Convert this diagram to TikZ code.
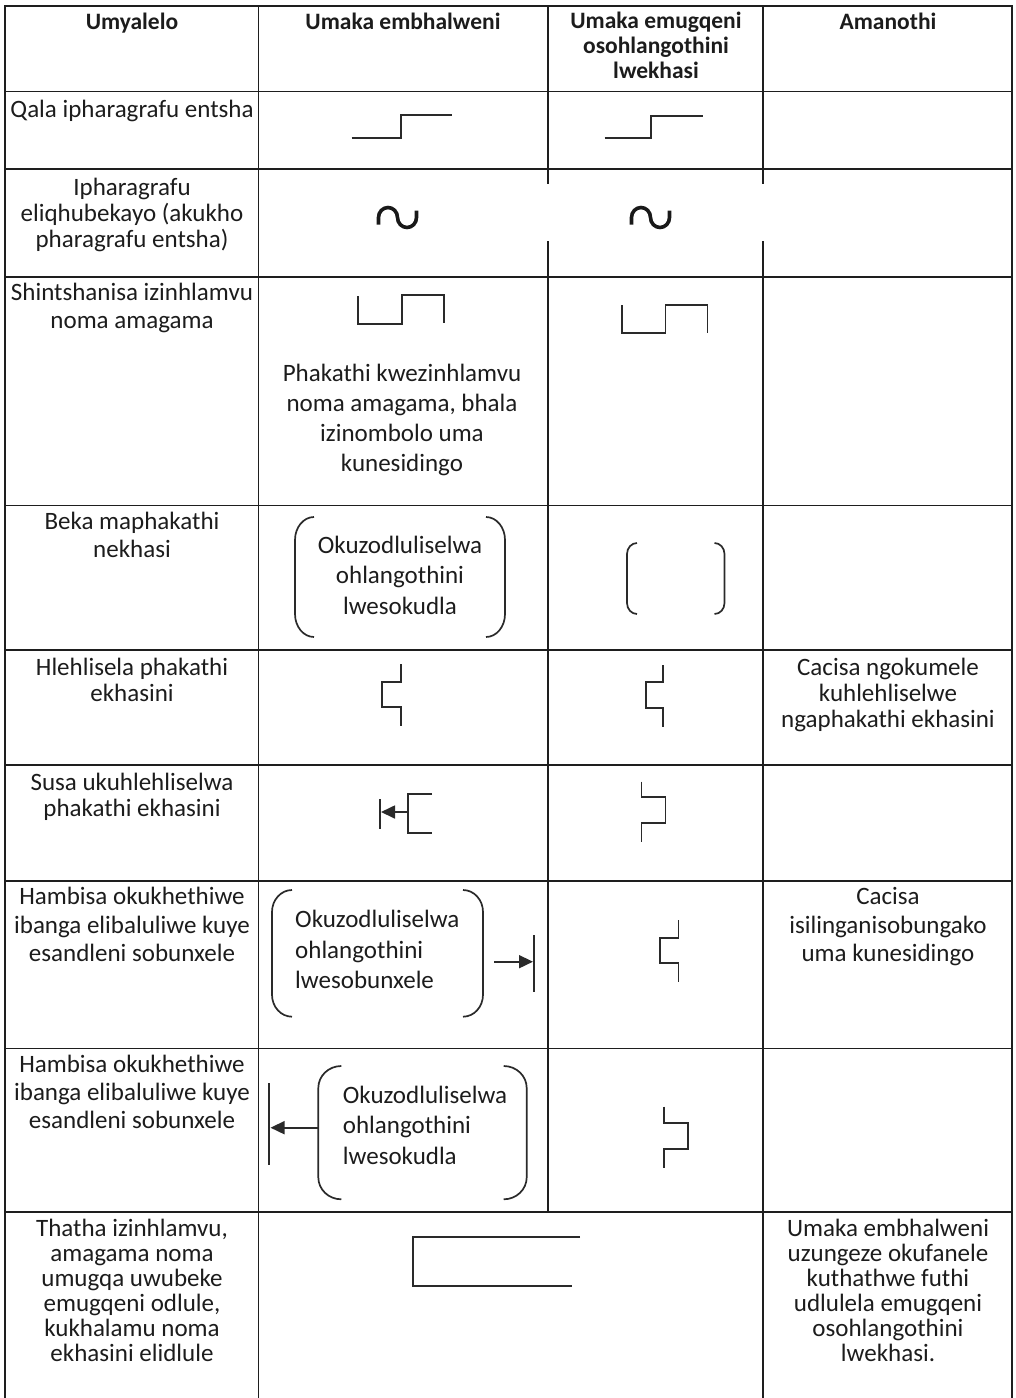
\documentclass[tikz,border=0pt]{standalone}
\usepackage{fontspec}
\setmainfont{Carlito}
\usetikzlibrary{arrows.meta}
\definecolor{linec}{HTML}{1E1E1E}
\definecolor{textc}{HTML}{1C1C1C}
\definecolor{symc}{HTML}{2A2A2A}
\tikzset{
  grid/.style={line width=1.8pt, draw=linec, line cap=rect},
  sym/.style={line width=1.7pt, draw=symc},
  wavest/.style={line width=3.6pt, draw=black!90},
  txt/.style={font=\fontsize{25}{29}\selectfont, text=textc, inner sep=0pt, anchor=base},
  txtl/.style={txt, anchor=base west},
  txtb/.style={txt, font=\fontsize{23.5}{28}\selectfont\bfseries},
  arr/.style={sym, -{Triangle[length=14pt,width=13pt]}},
}
% #1 style, #2 name, #3 x, #4 first baseline, #5 spacing, #6 lines
\newcommand\ctext[6]{\foreach \cline [count=\kk from 0] in {#6}{\node[#1] (#2-\kk) at (#3,{#4+\kk*#5}) {\cline};}}
% brackets: #1 xl #2 xr #3 ytop #4 ybot #5 rx #6 ry
\newcommand\brk[6]{%
  \draw[sym] ({#1+#5},#3) arc[start angle=270,end angle=180,x radius=#5,y radius=#6] -- (#1,{#4-#6}) arc[start angle=180,end angle=90,x radius=#5,y radius=#6];
  \draw[sym] ({#2-#5},#3) arc[start angle=270,end angle=360,x radius=#5,y radius=#6] -- (#2,{#4-#6}) arc[start angle=0,end angle=90,x radius=#5,y radius=#6];}
\newcommand\wave[2]{%
  \draw[wavest] ({#1-19},{#2+7}) -- ({#1-19},#2) arc[start angle=180,end angle=360,x radius=9.5,y radius=10] arc[start angle=180,end angle=0,x radius=9.5,y radius=10] -- ({#1+19},{#2-7});}
\begin{document}
\begin{tikzpicture}[x=1pt,y=-1pt]
\useasboundingbox (0,0) rectangle (1016,1398);
% ---- grid ----
\foreach \yy in {6,91.5,169,276.7,505.5,650,765,880.7,1048.5,1211.7}
  \draw[grid] (5,\yy) -- (1012,\yy);
\draw[grid] (5,6) -- (5,1398);
\draw[grid] (258.5,6) -- (258.5,1398);
\draw[grid] (1012,6) -- (1012,1398);
\draw[grid] (548,6) -- (548,183) (548,241.7) -- (548,1211.7);
\draw[grid] (763,6) -- (763,183) (763,241.7) -- (763,1398);
% ---- header ----
\node[txtb] (h1) at (132,29.5) {Umyalelo};
\node[txtb] (h2) at (403,29.5) {Umaka embhalweni};
\ctext{txtb}{h3}{656}{28.5}{25}{Umaka emugqeni,osohlangothini,lwekhasi}
\node[txtb] (h4) at (888,29.5) {Amanothi};
% ---- row 1 ----
\node[txt] (r1) at (132,117) {Qala ipharagrafu entsha};
\draw[sym] (351.7,137.7) -- (400.7,137.7) -- (400.7,115) -- (451.7,115);
\draw[sym] (604.6,137.7) -- (651,137.7) -- (651,116) -- (703,116);
% ---- row 2 ----
\ctext{txt}{r2}{132}{195}{26.3}{Ipharagrafu,eliqhubekayo (akukho,pharagrafu entsha)}
\wave{397.5}{217.5}
\wave{650.5}{217.5}
% ---- row 3 ----
\ctext{txt}{r3}{132}{300.5}{28}{Shintshanisa izinhlamvu,noma amagama}
\draw[sym] (358.3,296) -- (358.3,324) -- (401.8,324) -- (401.8,295) -- (443.9,295) -- (443.9,323.3);
\ctext{txt}{r3b}{402}{381.7}{30}{Phakathi kwezinhlamvu,{noma amagama, bhala},izinombolo uma,kunesidingo}
\draw[sym] (622,305) -- (622,333.3) -- (665.5,333.3) -- (665.5,305) -- (707.6,305) -- (707.6,333.3);
% ---- row 4 ----
\ctext{txt}{r4}{132}{529}{28.5}{Beka maphakathi,nekhasi}
\brk{295}{505}{517}{637}{19}{23}
\ctext{txt}{r4b}{400}{553}{30.5}{Okuzodluliselwa,ohlangothini,lwesokudla}
\brk{627}{724.5}{543}{614}{10}{11}
% ---- row 5 ----
\ctext{txt}{r5}{132}{675}{26}{Hlehlisela phakathi,ekhasini}
\draw[sym] (401,664) -- (401,682) -- (382,682) -- (382,706.7) -- (401,706.7) -- (401,725.7);
\draw[sym] (663,665) -- (663,681.7) -- (646,681.7) -- (646,708.3) -- (663,708.3) -- (663,727.3);
\ctext{txt}{r5d}{888}{675}{26}{Cacisa ngokumele,kuhlehliselwe,ngaphakathi ekhasini}
% ---- row 6 ----
\ctext{txt}{r6}{132}{790}{26}{Susa ukuhlehliselwa,phakathi ekhasini}
\draw[sym] (380,799) -- (380,829);
\draw[sym] (432,794) -- (408,794) -- (408,833) -- (432,833);
\coordinate (a6s) at (408,812);
\coordinate (a6e) at (381,812);
\draw[arr] (a6s) -- (a6e);
\draw[sym] (641.5,781.7) -- (641.5,796.7) -- (665.5,796.7) -- (665.5,822.7) -- (641.5,822.7) -- (641.5,841.7);
% ---- row 7 ----
\ctext{txt}{r7}{132}{904.5}{28.5}{Hambisa okukhethiwe,ibanga elibaluliwe kuye,esandleni sobunxele}
\brk{272}{483}{890}{1016.7}{20}{22}
\ctext{txtl}{r7b}{295}{927.5}{30.5}{Okuzodluliselwa,ohlangothini,lwesobunxele}
\coordinate (a7s) at (494,961.7);
\coordinate (a7e) at (533,961.7);
\draw[arr] (a7s) -- (a7e);
\draw[sym] (534,935) -- (534,991.7);
\draw[sym] (678.5,920) -- (678.5,938.3) -- (659.7,938.3) -- (659.7,963.3) -- (678.5,963.3) -- (678.5,981.7);
\ctext{txt}{r7d}{888}{904.5}{28.5}{Cacisa,isilinganisobungako,uma kunesidingo}
% ---- row 8 ----
\ctext{txt}{r8}{132}{1072}{28.3}{Hambisa okukhethiwe,ibanga elibaluliwe kuye,esandleni sobunxele}
\draw[sym] (269.3,1083) -- (269.3,1165);
\coordinate (a8s) at (318.3,1127.7);
\coordinate (a8e) at (270.5,1127.7);
\draw[arr] (a8s) -- (a8e);
\brk{318.3}{526.7}{1066}{1199.3}{23}{22}
\ctext{txtl}{r8b}{342.7}{1103}{30.8}{Okuzodluliselwa,ohlangothini,lwesokudla}
\draw[sym] (664,1106.7) -- (664,1123.3) -- (688,1123.3) -- (688,1149.3) -- (664,1149.3) -- (664,1168.3);
% ---- row 9 ----
\ctext{txt}{r9}{132}{1236}{25}{{Thatha izinhlamvu,},amagama noma,umugqa uwubeke,{emugqeni odlule,},kukhalamu noma,ekhasini elidlule}
\draw[sym] (580,1236.7) -- (412.8,1236.7) -- (412.8,1285.7) -- (571.5,1285.7);
\ctext{txt}{r9d}{888}{1236}{25}{Umaka embhalweni,uzungeze okufanele,kuthathwe futhi,udlulela emugqeni,osohlangothini,lwekhasi.}
\end{tikzpicture}
\end{document}
